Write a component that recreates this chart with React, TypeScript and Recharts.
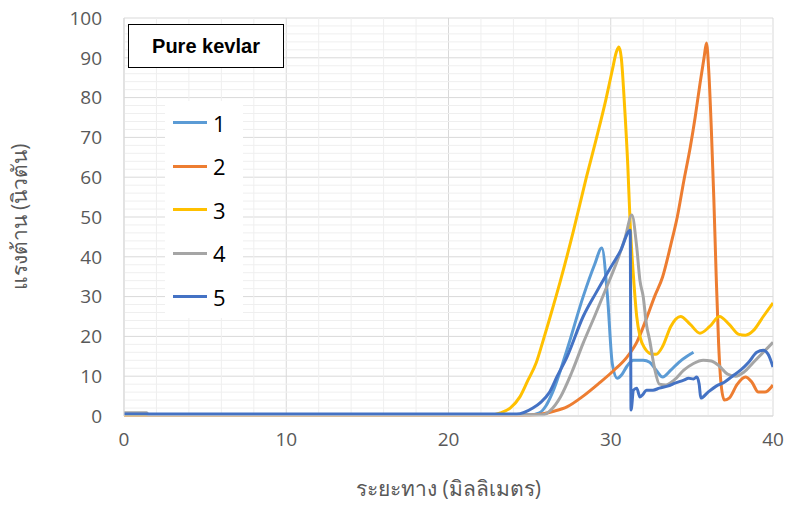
import React from 'react';
import { LineChart, Line, XAxis, YAxis, CartesianGrid, ReferenceLine } from 'recharts';

// distance (mm) / force (N)
const dist1 = [0, 25.0, 25.6, 26.0, 26.4, 27.3, 28.3, 29.0, 29.45, 29.8, 30.1, 30.4, 30.7, 31.0, 31.4, 32.0, 32.4, 32.8, 33.2, 33.7, 34.2, 34.7, 35.1];
const force1 = [0.3, 0.3, 0.8, 2.5, 5.8, 16.6, 30, 38, 42.2, 30, 13, 9.5, 10.5, 12.5, 14, 14, 13.5, 11.5, 9.8, 11.5, 13.5, 15, 16];

const dist2 = [0, 24.5, 25.6, 26.5, 27.3, 28.3, 29.3, 30.2, 31.0, 31.6, 32.2, 32.7, 33.2, 33.7, 34.1, 34.5, 34.9, 35.2, 35.5, 35.75, 35.9, 36.05, 36.2, 36.35, 36.5, 36.65, 36.8, 37.0, 37.3, 37.8, 38.3, 38.7, 39.1, 39.5, 40];
const force2 = [0.2, 0.2, 0.4, 1.2, 2.3, 5, 8.3, 11.5, 14.8, 18.5, 24.5, 30, 35, 43, 50, 59, 67.5, 75, 83.5, 90, 93.7, 86, 72, 55, 35, 18, 8, 4, 4.5, 8, 9.8, 8.5, 6, 6, 7.8];

const dist3 = [0, 22.6, 23.2, 23.8, 24.4, 24.9, 25.4, 25.8, 26.2, 26.9, 27.7, 28.5, 29.1, 29.7, 30.1, 30.35, 30.5, 30.65, 30.85, 31.05, 31.2, 31.4, 31.6, 31.8, 32.1, 32.5, 32.8, 33.2, 33.7, 34.3, 34.9, 35.5, 36.1, 36.7, 37.3, 37.9, 38.3, 38.8, 39.4, 40];
const force3 = [0.3, 0.3, 0.8, 2, 4.8, 9, 13.3, 18.5, 24, 34, 46.5, 60, 69.5, 79.5, 87, 91.5, 92.7, 90, 78, 63, 48, 35, 25, 20, 17, 15.6, 15.5, 17.5, 22.5, 25, 23, 20.8, 22.5, 25, 23, 20.5, 20.3, 21.5, 25, 28.4];

const dist4 = [0, 1.4, 1.5, 25.8, 26.3, 26.9, 27.6, 28.3, 29.0, 29.75, 30.4, 30.9, 31.3, 31.6, 31.8, 32.0, 32.2, 32.4, 32.7, 33.0, 33.4, 33.9, 34.5, 35.1, 35.7, 36.2, 36.7, 37.2, 37.7, 38.2, 38.8, 39.4, 40];
const force4 = [0.8, 0.8, 0.3, 0.3, 1.5, 4.8, 11, 18.3, 25, 32.4, 39, 45, 50.5, 42.5, 34, 30, 23, 19, 12, 8, 7.8, 9, 11.5, 13.2, 14, 13.8, 12.5, 10.5, 10, 11, 13.5, 16, 18.5];

const dist5 = [0, 24.2, 25.2, 25.7, 26.2, 26.7, 27.3, 28.3, 29.1, 29.9, 30.6, 31.2, 31.25, 31.4, 31.6, 31.8, 32.0, 32.2, 32.6, 33.0, 33.5, 34.0, 34.5, 34.8, 35.1, 35.3, 35.45, 35.55, 36.0, 36.5, 37.0, 37.5, 38.0, 38.5, 39.0, 39.4, 39.7, 40];
const force5 = [0.5, 0.5, 2, 3.5, 5.8, 10, 14.8, 25, 31, 36.7, 41.5, 46.7, 1.5, 6.5, 7, 4.8, 5.5, 6.5, 6.5, 7, 7.5, 8.3, 9, 9.5, 9.3, 9.8, 8, 4.5, 6, 7.5, 8.5, 10, 11.5, 13.5, 16, 16.5, 15.5, 12.3];

const seriesNames = ['1', '2', '3', '4', '5'];
const seriesColors = ['#5B9BD5', '#ED7D31', '#FFC000', '#A5A5A5', '#4472C4'];

const xTicks = [0, 10, 20, 30, 40];
const yTicks = [0, 10, 20, 30, 40, 50, 60, 70, 80, 90, 100];
const xMinor = [2, 4, 6, 8, 12, 14, 16, 18, 22, 24, 26, 28, 32, 34, 36, 38];
const yMinor = Array.from({ length: 50 }, (_, i) => i * 2).filter((v) => v % 10 !== 0);

const toPoints = (xs: number[], ys: number[]) => xs.map((x, i) => ({ x, y: ys[i] }));
const allSeries = [
  toPoints(dist1, force1),
  toPoints(dist2, force2),
  toPoints(dist3, force3),
  toPoints(dist4, force4),
  toPoints(dist5, force5),
];

const tickStyle = { fontFamily: '"Open Sans", sans-serif', fontSize: 19, fill: '#595959' };
const titleFont = '"Open Sans", "Noto Sans", sans-serif';

export default function App() {
  return (
    <div style={{ position: 'absolute', left: 0, top: 0, width: 792, height: 508, background: '#fff' }}>
      <LineChart width={792} height={508} margin={{ top: 18, right: 19, left: 0, bottom: 0 }}>
        {xMinor.map((v) => (
          <ReferenceLine key={`mx${v}`} x={v} stroke="#efefef" strokeWidth={1} />
        ))}
        {yMinor.map((v) => (
          <ReferenceLine key={`my${v}`} y={v} stroke="#efefef" strokeWidth={1} />
        ))}
        <CartesianGrid stroke="#d9d9d9" strokeWidth={1} />
        <XAxis
          type="number"
          dataKey="x"
          domain={[0, 40]}
          ticks={xTicks}
          interval={0}
          allowDataOverflow
          height={92}
          tickLine={false}
          axisLine={{ stroke: '#d9d9d9' }}
          tick={tickStyle}
          tickMargin={11}
          label={{ value: 'ระยะทาง (มิลลิเมตร)', position: 'insideBottom', offset: 12, style: { fontFamily: titleFont, fontSize: 21, fill: '#595959' } }}
        />
        <YAxis
          type="number"
          domain={[0, 100]}
          ticks={yTicks}
          interval={0}
          width={124}
          tickLine={false}
          axisLine={{ stroke: '#d9d9d9' }}
          tick={tickStyle}
          tickMargin={16}
          label={{ value: 'แรงต้าน (นิวตัน)', angle: -90, position: 'insideLeft', offset: 20, style: { textAnchor: 'middle', fontFamily: titleFont, fontSize: 21, fill: '#595959' } }}
        />
        {allSeries.map((data, i) => (
          <Line
            key={seriesNames[i]}
            data={data}
            dataKey="y"
            name={seriesNames[i]}
            type="monotone"
            stroke={seriesColors[i]}
            strokeWidth={3}
            dot={false}
            isAnimationActive={false}
          />
        ))}
      </LineChart>
      <div style={{ position: 'absolute', left: 165, top: 101, width: 78, height: 217, background: '#fff', boxSizing: 'border-box', padding: '0 0 0 8px' }}>
        {seriesNames.map((name, i) => (
          <div key={name} style={{ display: 'flex', alignItems: 'center', height: 43.5 }}>
            <div style={{ width: 34, height: 3, background: seriesColors[i] }} />
            <span style={{ marginLeft: 6, fontFamily: titleFont, fontSize: 22, color: '#000', lineHeight: '24px' }}>{name}</span>
          </div>
        ))}
      </div>
      <div
        style={{
          position: 'absolute', left: 128, top: 24, width: 156, height: 44, boxSizing: 'border-box',
          border: '1.5px solid #000', background: '#fff', display: 'flex', alignItems: 'center', justifyContent: 'center',
          fontFamily: '"Liberation Sans", Arial, sans-serif', fontWeight: 'bold', fontSize: 20, color: '#000',
        }}
      >
        Pure kevlar
      </div>
    </div>
  );
}
